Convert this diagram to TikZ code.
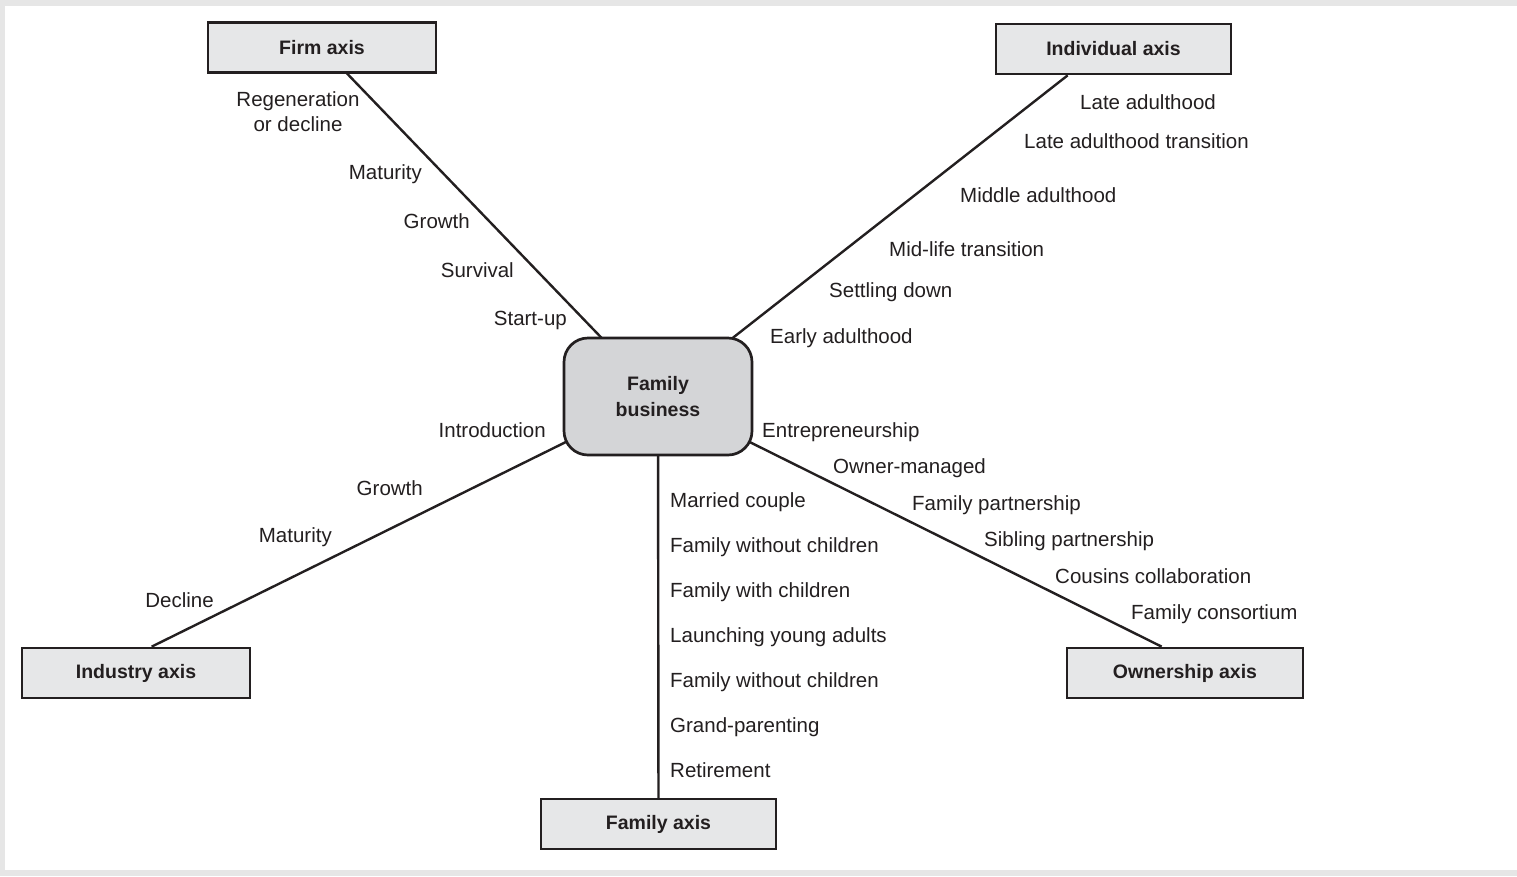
\documentclass[tikz,border=0pt]{standalone}
\usepackage{fontspec}
\setmainfont{Liberation Sans}
\usetikzlibrary{backgrounds,calc}
\definecolor{ink}{HTML}{231F20}
\definecolor{boxgray}{HTML}{E6E7E8}
\definecolor{hubgray}{HTML}{D4D5D7}
\definecolor{framegray}{HTML}{E6E6E6}

\begin{document}
\begin{tikzpicture}[x=1pt,y=-1pt,
  axisbox/.style={draw=ink, line width=2.7pt, fill=boxgray, minimum height=50pt,
    inner sep=0pt, text=ink, font=\fontsize{19.5}{22}\selectfont\bfseries},
  hub/.style={draw=ink, line width=2.7pt, fill=hubgray, rounded corners=24pt,
    minimum width=188pt, minimum height=117pt, align=center, text=ink,
    font=\fontsize{19.5}{26}\selectfont\bfseries},
  link/.style={draw=ink, line width=2.4pt},
  stage/.style={text=ink, inner sep=0pt, yshift=-5pt, font=\fontsize{20.5}{25}\selectfont},
]
% page frame
\begin{scope}[on background layer]
  \fill[framegray] (0,0) rectangle (1517,876);
  \fill[white] (5,6) rectangle (1517,870);
\end{scope}
\useasboundingbox (0,0) rectangle (1517,876);

% hub and the five axes
\node[hub] (fb) at (658,396.5) {Family\\business};
\node[axisbox, minimum width=228pt] (firm) at (322,47.5) {Firm axis};
\node[axisbox, minimum width=235pt] (indiv) at (1113.5,49) {Individual axis};
\node[axisbox, minimum width=228pt] (industry) at (136,673) {Industry axis};
\node[axisbox, minimum width=236pt] (owner) at (1185,673) {Ownership axis};
\node[axisbox, minimum width=235pt] (family) at (658.5,824) {Family axis};

\coordinate (indiv-foot) at ($(indiv.south west)+(73,0)$);
\coordinate (industry-top) at ($(industry.north west)+(131,0)$);
\coordinate (owner-top) at ($(owner.north west)+(96,0)$);

% spokes, drawn behind the boxes
\begin{scope}[on background layer]
  \draw[link] (fb.center) -- (firm.center);
  \draw[link] (fb.center) -- (indiv-foot);
  \draw[link] (fb.center) -- (industry-top);
  \draw[link] (fb.center) -- (owner-top);
  \draw[link] (fb.center) -- (family.center);
\end{scope}

% firm axis stages
\node[stage, align=center, anchor=center] (f5) at (298,107) {Regeneration\\or decline};
\node[stage, anchor=mid east] (f4) at (422,172) {Maturity};
\node[stage, anchor=mid east] (f3) at (470,221) {Growth};
\node[stage, anchor=mid east] (f2) at (514,270) {Survival};
\node[stage, anchor=mid east] (f1) at (567,318) {Start-up};

% individual axis stages
\node[stage, anchor=mid west] (i6) at (1080,102) {Late adulthood};
\node[stage, anchor=mid west] (i5) at (1024,141) {Late adulthood transition};
\node[stage, anchor=mid west] (i4) at (960,195) {Middle adulthood};
\node[stage, anchor=mid west] (i3) at (889,249) {Mid-life transition};
\node[stage, anchor=mid west] (i2) at (829,290) {Settling down};
\node[stage, anchor=mid west] (i1) at (770,336) {Early adulthood};

% industry axis stages
\node[stage, anchor=mid east] (d1) at (546,430) {Introduction};
\node[stage, anchor=mid east] (d2) at (423,488) {Growth};
\node[stage, anchor=mid east] (d3) at (332,535) {Maturity};
\node[stage, anchor=mid east] (d4) at (214,600) {Decline};

% ownership axis stages
\node[stage, anchor=mid west] (o1) at (762,430) {Entrepreneurship};
\node[stage, anchor=mid west] (o2) at (833,466) {Owner-managed};
\node[stage, anchor=mid west] (o3) at (912,503) {Family partnership};
\node[stage, anchor=mid west] (o4) at (984,539) {Sibling partnership};
\node[stage, anchor=mid west] (o5) at (1055,576) {Cousins collaboration};
\node[stage, anchor=mid west] (o6) at (1131,612) {Family consortium};

% family axis stages
\node[stage, anchor=mid west] (m1) at (670,500) {Married couple};
\node[stage, anchor=mid west] (m2) at (670,545) {Family without children};
\node[stage, anchor=mid west] (m3) at (670,590) {Family with children};
\node[stage, anchor=mid west] (m4) at (670,635) {Launching young adults};
\node[stage, anchor=mid west] (m5) at (670,680) {Family without children};
\node[stage, anchor=mid west] (m6) at (670,725) {Grand-parenting};
\node[stage, anchor=mid west] (m7) at (670,770) {Retirement};
\end{tikzpicture}
\end{document}
